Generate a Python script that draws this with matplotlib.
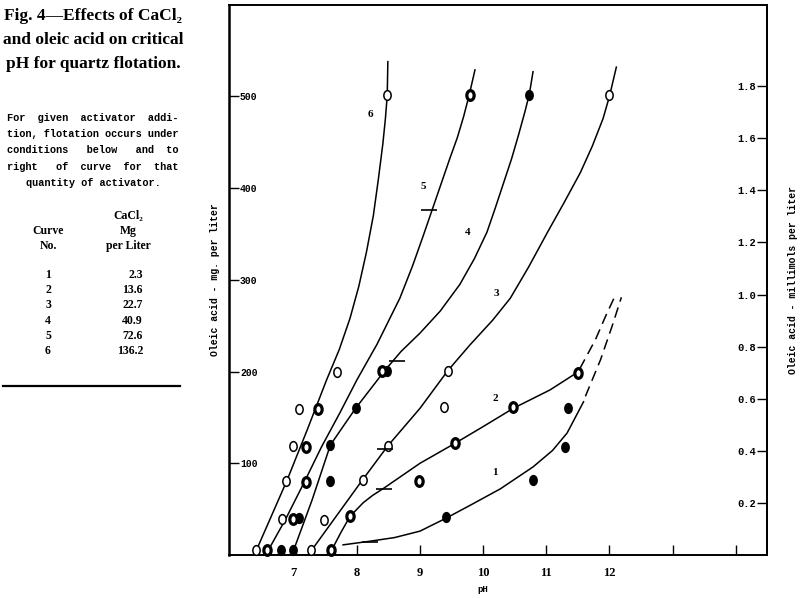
import matplotlib
matplotlib.use("Agg")
import matplotlib.pyplot as plt
import matplotlib.path as mpath
import matplotlib.transforms as mtransforms

# table in the caption
curve_no = ['1', '2', '3', '4', '5', '6']
cacl2_mg = ['2.3', '13.6', '22.7', '40.9', '72.6', '136.2']

# curves: pH vs oleic acid (mg per liter)
c1_ph = [7.78, 8.21, 8.6, 9.0, 9.41, 9.79, 10.27, 10.79, 11.1, 11.33, 11.59]
c1_mg = [11, 15, 19, 26, 40, 54, 72, 96, 114, 133, 167]
c1_dash_ph = [11.62, 11.86, 12.05, 12.19]
c1_dash_mg = [173, 213, 251, 281]

c2_ph = [7.59, 7.75, 7.89, 8.1, 8.25, 8.43, 9.0, 9.56, 10.0, 10.48, 11.06, 11.49]
c2_mg = [4, 25, 42, 57, 65, 73, 100, 122, 140, 160, 180, 199]
c2_dash_ph = [11.53, 11.78, 11.95, 12.10]
c2_dash_mg = [203, 235, 262, 284]

c3_ph = [7.27, 7.68, 8.09, 8.49, 9.0, 9.44, 9.79, 10.15, 10.43, 10.72, 11.02, 11.28,
         11.54, 11.73, 11.90, 12.0, 12.11]
c3_mg = [4, 43, 82, 119, 160, 201, 229, 256, 280, 314, 352, 384,
         417, 446, 476, 500, 532]

c4_ph = [6.98, 7.29, 7.58, 7.98, 8.44, 8.70, 9.0, 9.32, 9.63, 9.86, 10.06, 10.19,
         10.32, 10.45, 10.56, 10.66, 10.73, 10.79]
c4_mg = [2, 60, 120, 160, 201, 222, 242, 266, 295, 323, 352, 378,
         405, 432, 458, 483, 502, 527]

c5_ph = [6.57, 6.87, 7.17, 7.44, 7.73, 8.0, 8.32, 8.68, 8.88, 9.05, 9.19, 9.35, 9.47,
         9.59, 9.69, 9.78, 9.87]
c5_mg = [2, 39, 80, 118, 155, 191, 230, 280, 315, 348, 376, 408, 432,
         455, 478, 502, 529]

c6_ph = [6.40, 6.89, 7.21, 7.52, 7.72, 7.89, 8.03, 8.15, 8.26, 8.34, 8.41, 8.45,
         8.48, 8.49]
c6_mg = [4, 81, 136, 191, 224, 258, 293, 330, 370, 410, 448, 475,
         501, 538]

# test points
open_ph = [6.40, 7.27, 6.82, 7.48, 6.88, 8.09, 6.99, 8.50, 7.08, 9.38, 7.69, 9.44, 8.48, 12.0]
open_mg = [5, 5, 39, 38, 81, 82, 119, 119, 159, 161, 200, 201, 502, 502]
filled_ph = [6.79, 6.98, 7.08, 7.58, 7.58, 7.98, 8.48, 9.41, 10.79, 11.29, 11.35, 10.73]
filled_mg = [5, 5, 40, 81, 120, 160, 201, 41, 82, 118, 160, 502]
half_ph = [6.58, 7.59, 6.98, 7.19, 7.19, 7.39, 7.89, 8.99, 9.56, 8.39, 10.48, 11.50, 9.79]
half_mg = [5, 5, 39, 80, 118, 159, 43, 81, 122, 201, 161, 198, 502]

# short bars drawn across the curves
bar_ph = [8.2, 8.43, 8.44, 8.63, 9.14]
bar_mg = [14, 72, 116, 211, 376]

# curve number labels
lab_ph = [10.19, 10.19, 10.21, 9.76, 9.05, 8.21]
lab_mg = [90, 171, 285, 352, 402, 480]

serif = ['Liberation Serif', 'DejaVu Serif']
mono = ['Liberation Mono', 'DejaVu Sans Mono']

fig = plt.figure(figsize=(8, 5.98), dpi=100)
ax = fig.add_axes([0.286, 0.072, 0.673, 0.920])

# solid curves
for xs, ys in [(c1_ph, c1_mg), (c2_ph, c2_mg), (c3_ph, c3_mg),
               (c4_ph, c4_mg), (c5_ph, c5_mg), (c6_ph, c6_mg)]:
    ax.plot(xs, ys, color='black', lw=1.1, solid_joinstyle='round')
# dashed extensions of curves 1 and 2
for xs, ys in [(c1_dash_ph, c1_dash_mg), (c2_dash_ph, c2_dash_mg)]:
    ax.plot(xs, ys, color='black', lw=1.1, dashes=(7, 4))

# slightly tall ellipse marker like the printed circles
ell = mpath.Path.unit_circle().transformed(mtransforms.Affine2D().scale(0.75, 1.0))

ax.plot(open_ph, open_mg, ls='none', marker=ell, ms=7, mfc='white', mec='black',
        mew=1.1, clip_on=False, zorder=3)
ax.plot(filled_ph, filled_mg, ls='none', marker=ell, ms=7, mfc='black', mec='black',
        mew=1.1, clip_on=False, zorder=3)
ax.plot(half_ph, half_mg, ls='none', marker=ell, ms=7, mfc='white', mec='black',
        mew=2.3, clip_on=False, zorder=3)
ax.plot(bar_ph, bar_mg, ls='none', marker='_', ms=12, mec='black', mew=1.2, zorder=3)

for n, x, y in zip(curve_no, lab_ph, lab_mg):
    ax.text(x, y, n, ha='center', va='center', fontsize=8, fontweight='bold', family=serif)

ax.set_xlim(5.97, 14.5)
ax.set_ylim(0, 600)
ax.set_xticks([7, 8, 9, 10, 11, 12, 13, 14])
ax.set_xticklabels(['7', '8', '9', '10', '11', '12', '', ''],
                   fontsize=9, fontweight='bold', family=serif)
ax.tick_params(axis='x', direction='in', length=7, width=1, pad=9)
ax.set_xlabel('pH', fontsize=6.5, fontweight='bold', family=mono)
ax.xaxis.set_label_coords(0.472, -0.055)

ax.set_yticks([100, 200, 300, 400, 500])
ax.set_yticklabels(['100', '200', '300', '400', '500'],
                   fontsize=7, fontweight='bold', family=mono)
ax.tick_params(axis='y', direction='in', length=7, width=1, pad=-8)
plt.setp(ax.get_yticklabels(), ha='left')
ax.set_ylabel('Oleic acid - mg. per liter', fontsize=7, fontweight='bold',
              family=mono, labelpad=6)

# right scale in millimols per liter
sec = ax.secondary_yaxis('right', functions=(lambda m: m / 284.0, lambda c: c * 284.0))
sec.set_yticks([0.2, 0.4, 0.6, 0.8, 1.0, 1.2, 1.4, 1.6, 1.8])
sec.set_yticklabels(['0.2', '0.4', '0.6', '0.8', '1.0', '1.2', '1.4', '1.6', '1.8'],
                    fontsize=7.5, fontweight='bold', family=mono)
sec.tick_params(axis='y', direction='in', length=7, width=1, pad=-8)
plt.setp(sec.get_yticklabels(), ha='right')
sec.set_ylabel('Oleic acid - millimols per liter', fontsize=7, fontweight='bold',
               family=mono, labelpad=15)

for s in ax.spines.values():
    s.set_linewidth(1.4)
ax.spines['left'].set_linewidth(1.8)
sec.spines['right'].set_linewidth(1.4)

# caption on the left
def px(x, y):
    return x / 800, 1 - y / 598

title = ['Fig. 4\u2014Effects of CaCl\u2082', 'and oleic acid on critical',
         'pH for quartz flotation.']
for i, line in enumerate(title):
    fig.text(*px(93, 16 + 24 * i), line, ha='center', va='center', fontsize=12.5,
             fontweight='bold', family=serif)

para = ['For  given  activator  addi-', 'tion, flotation occurs under',
        'conditions   below   and  to', 'right   of  curve  for  that',
        'quantity of activator.']
for i, line in enumerate(para):
    if i < 4:
        fig.text(*px(7, 118 + 16.2 * i), line, ha='left', va='center', fontsize=7.4,
                 fontweight='bold', family=mono)
    else:
        fig.text(*px(93, 118 + 16.2 * i), line, ha='center', va='center', fontsize=7.4,
                 fontweight='bold', family=mono)

tkw = dict(ha='center', va='center', fontsize=8.5, fontweight='bold', family=serif)
fig.text(*px(128, 216), 'CaCl\u2082', **tkw)
fig.text(*px(128, 231), 'Mg', **tkw)
fig.text(*px(128, 246), 'per Liter', **tkw)
fig.text(*px(48, 231), 'Curve', **tkw)
fig.text(*px(48, 246), 'No.', **tkw)
for i, (n, v) in enumerate(zip(curve_no, cacl2_mg)):
    fig.text(*px(48, 275 + 15.2 * i), n, **tkw)
    fig.text(*px(143, 275 + 15.2 * i), v, ha='right', va='center', fontsize=8.5,
             fontweight='bold', family=serif)

fig.add_artist(plt.Line2D([3 / 800, 180 / 800], [1 - 386 / 598] * 2, color='black', lw=1.6))

fig.savefig('out.png', dpi=100)
